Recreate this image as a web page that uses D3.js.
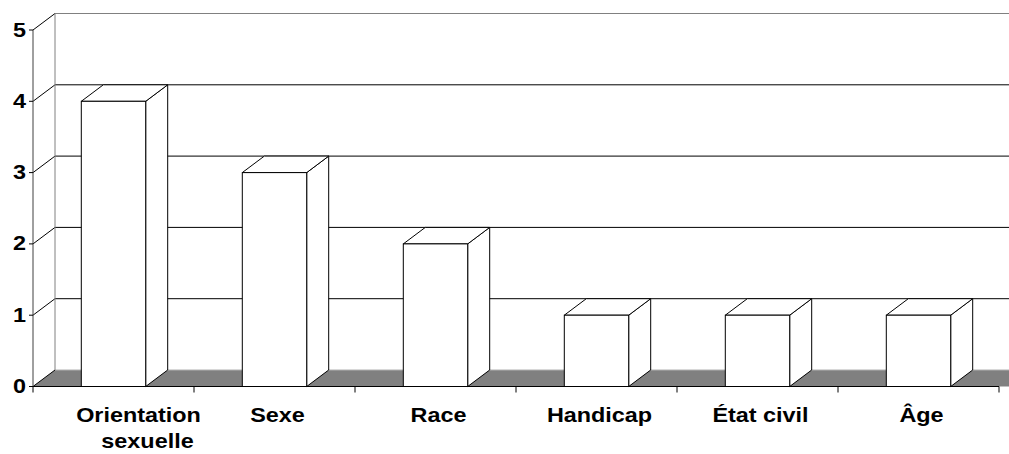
<!DOCTYPE html>
<html>
<head>
<meta charset="utf-8">
<script src="https://cdn.jsdelivr.net/npm/d3@7"></script>
<style>
  html, body { margin: 0; padding: 0; background: #fff; }
  svg { display: block; }
  text { font-family: "Liberation Sans", Arial, sans-serif; font-weight: bold; fill: #000; }
</style>
</head>
<body>
<svg id="chart" width="1009" height="454"></svg>
<script>
// Category labels (line breaks mark wrapped labels)
const categories = ["Orientation\nsexuelle", "Sexe", "Race", "Handicap", "État civil", "Âge"];
// Counts per category
const values = [4, 3, 2, 1, 1, 1];
// Value axis ticks
const yTicks = [0, 1, 2, 3, 4, 5];

const svg = d3.select("#chart");

// Depth offset of the 3D box (front plane -> back wall)
const DX = 22, DY = -16.5;
const left = 33, right = 999;

const x = d3.scaleBand().domain(categories).range([left, right])
  .paddingInner(0.6).paddingOuter(0.3);
const y = d3.scaleLinear().domain([0, 5]).range([386.5, 30]);
const bw = x.bandwidth();
const step = x.step();
const yMax = yTicks[yTicks.length - 1];

const pts = a => a.map(p => p.join(",")).join(" ");

// Back wall
svg.append("rect")
  .attr("x", left + DX).attr("y", y(yMax) + DY)
  .attr("width", right - left + 40).attr("height", y(0) - y(yMax))
  .attr("fill", "#fff");

// Floor
svg.append("polygon")
  .attr("points", pts([[left, y(0)], [right + 40, y(0)], [right + 40 + DX, y(0) + DY], [left + DX, y(0) + DY]]))
  .attr("fill", "#808080");
svg.append("line")
  .attr("x1", left + DX).attr("x2", right + DX + 40)
  .attr("y1", y(0) + DY).attr("y2", y(0) + DY)
  .attr("stroke", "#b0b0b0").attr("stroke-width", 1);

// Gridlines: diagonal on the side wall, horizontal on the back wall
const grid = svg.append("g");
yTicks.forEach(v => {
  grid.append("line")
    .attr("x1", left).attr("y1", y(v))
    .attr("x2", left + DX).attr("y2", y(v) + DY)
    .attr("stroke", "#000").attr("stroke-width", 1);
  if (v > 0) {
    grid.append("line")
      .attr("x1", left + DX).attr("x2", right + DX + 40)
      .attr("y1", y(v) + DY).attr("y2", y(v) + DY)
      .attr("stroke", v === yMax ? "#808080" : "#000").attr("stroke-width", 1);
  }
});

// Back corner of the walls
svg.append("line")
  .attr("x1", left + DX).attr("x2", left + DX)
  .attr("y1", y(yMax) + DY).attr("y2", y(0) + DY)
  .attr("stroke", "#808080").attr("stroke-width", 1);

// 3D columns
const bars = svg.append("g");
categories.forEach((c, i) => {
  const x0 = x(c), x1 = x0 + bw, yt = y(values[i]), yb = y(0);
  const g = bars.append("g")
    .attr("fill", "#fff").attr("stroke", "#000").attr("stroke-width", 1)
    .attr("stroke-linejoin", "miter");
  g.append("polygon")
    .attr("points", pts([[x1, yb], [x1, yt], [x1 + DX, yt + DY], [x1 + DX, yb + DY]]));
  g.append("polygon")
    .attr("points", pts([[x0, yt], [x1, yt], [x1 + DX, yt + DY], [x0 + DX, yt + DY]]));
  g.append("rect")
    .attr("x", x0).attr("y", yt).attr("width", bw).attr("height", yb - yt);
});

// Value axis
svg.append("line")
  .attr("x1", left).attr("x2", left).attr("y1", y(yMax)).attr("y2", y(0))
  .attr("stroke", "#404040").attr("stroke-width", 1);
const yAxis = svg.append("g");
yTicks.forEach(v => {
  yAxis.append("line")
    .attr("x1", left - 4).attr("x2", left).attr("y1", y(v)).attr("y2", y(v))
    .attr("stroke", "#000").attr("stroke-width", 1);
  yAxis.append("text")
    .attr("transform", `translate(26,${y(v) + 6.5}) scale(1.2,1)`)
    .attr("text-anchor", "end")
    .attr("font-size", "19.5px")
    .text(d3.format("d")(v));
});

// Category axis
svg.append("line")
  .attr("x1", left).attr("x2", right).attr("y1", y(0)).attr("y2", y(0))
  .attr("stroke", "#000").attr("stroke-width", 1);
const xAxis = svg.append("g");
d3.range(categories.length + 1).forEach(k => {
  const xt = left + k * step;
  xAxis.append("line")
    .attr("x1", xt).attr("x2", xt).attr("y1", y(0)).attr("y2", y(0) + 6)
    .attr("stroke", "#000").attr("stroke-width", 1);
});
categories.forEach(c => {
  const lines = c.split("\n");
  const cx = x(c) + bw / 2;
  lines.forEach((ln, j) => {
    const shift = lines.length > 1 ? 25 + j * 9 : 3;
    xAxis.append("text")
      .attr("transform", `translate(${cx + shift},${421.5 + j * 26}) scale(1.2,1)`)
      .attr("text-anchor", "middle")
      .attr("font-size", "19.5px")
      .text(ln);
  });
});
</script>
</body>
</html>
